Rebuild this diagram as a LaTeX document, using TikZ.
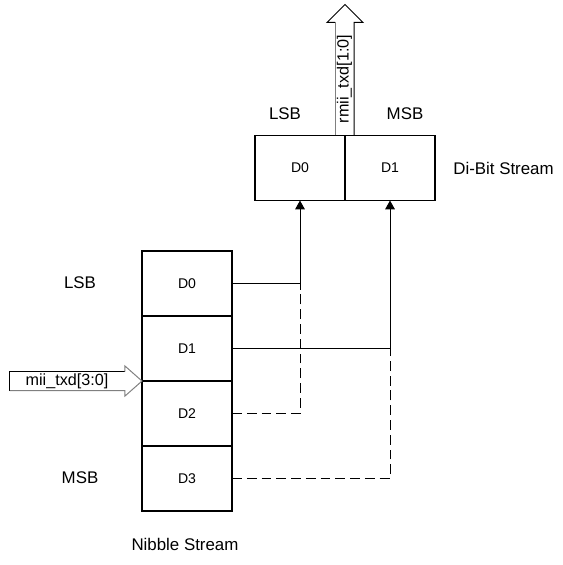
\documentclass[tikz,border=0pt]{standalone}
\usepackage{fontspec}
\setmainfont{Liberation Sans}
\usetikzlibrary{arrows.meta, positioning, calc}

\begin{document}
\begin{tikzpicture}[
  x=0.025cm, y=-0.025cm,
  cell/.style={draw, line width=1.4pt, outer sep=0pt, minimum width=2.25cm,
    minimum height=1.625cm, font=\fontsize{10}{12}\selectfont},
  lbl/.style={font=\fontsize{12}{14}\selectfont},
  wire/.style={line width=0.7pt},
  arrow/.style={wire, -{Triangle[length=2.2mm, width=2.4mm]}},
  dash line/.style={wire, dash pattern=on 7pt off 3.5pt},
  fat/.style={line width=0.7pt, line join=miter}
]
  \useasboundingbox (0,0) rectangle (563,565);

  % Nibble stream
  \node[cell] (n0) at (187,283.5) {D0};
  \node[cell, below=0pt of n0] (n1) {D1};
  \node[cell, below=0pt of n1] (n2) {D2};
  \node[cell, below=0pt of n2] (n3) {D3};

  % Di-bit stream
  \node[cell] (b0) at (300,168) {D0};
  \node[cell, right=0pt of b0] (b1) {D1};

  % Labels
  \node[lbl] (nlsb) at (80,283) {LSB};
  \node[lbl] (nmsb) at (80,478) {MSB};
  \node[lbl] (nname) at (185,544) {Nibble Stream};
  \node[lbl] (blsb) at (285,114) {LSB};
  \node[lbl] (bmsb) at (405,114) {MSB};
  \node[lbl] (bname) at (503.5,168) {Di-Bit Stream};

  % Connections
  \coordinate (j0) at (n0.east -| b0.south);
  \coordinate (j1) at (n1.east -| b1.south);
  \draw[arrow] (n0.east) -| (b0.south);
  \draw[arrow] (n1.east) -| (b1.south);
  \draw[dash line] (n2.east) -| (j0);
  \draw[dash line] (n3.east) -| (j1);

  % Bus arrows
  \draw[fat] (b0.north east) ++(9,0) -- ++(0,-113) -- ++(9,0) -- ++(-18,-18)
    -- ++(-18,18) -- ++(8,0);
  \draw[fat, gray] (b0.north east) ++(-10,0) -- ++(0,-113);
  \node[lbl, rotate=90, font=\fontsize{11.5}{14}\selectfont] (outbus)
    at (344.5,79) {rmii\_txd[1:0]};
  \draw[fat] (n1.south west) ++(-17,-9.5) -- ++(-115,0) -- ++(0,19);
  \draw[fat, gray] (n1.south west) ++(-132,9.5) -- ++(115,0) -- ++(0,5.5)
    -- ++(17,-15) -- ++(-17,-15) -- ++(0,5.5);
  \node[lbl, font=\fontsize{11.5}{14}\selectfont] (inbus)
    at (67,381) {mii\_txd[3:0]};
\end{tikzpicture}
\end{document}
